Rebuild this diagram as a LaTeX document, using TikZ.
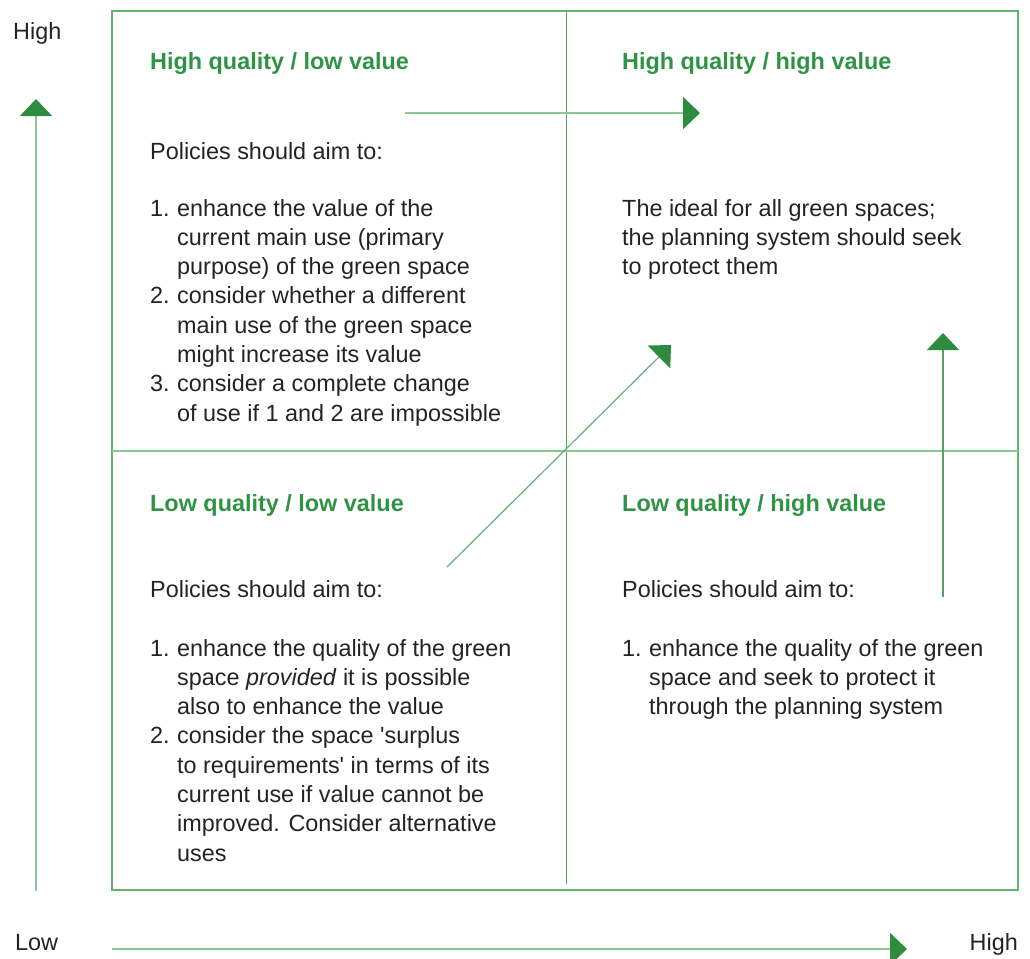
\documentclass[tikz,border=0pt]{standalone}
\usepackage{fontspec}
\setmainfont{Liberation Sans}
\usetikzlibrary{arrows.meta}
\definecolor{tgreen}{RGB}{46,148,68}
\definecolor{hgreen}{RGB}{47,140,62}
\definecolor{lgreen}{RGB}{140,200,150}
\definecolor{mgreen}{RGB}{100,178,112}
\definecolor{dgreen}{RGB}{85,160,98}
\definecolor{ink}{RGB}{35,35,35}
\newcommand{\itm}[1]{\makebox[27pt][l]{#1}}
\newcommand{\cnt}{\hspace*{27pt}}
\begin{document}
\begin{tikzpicture}[x=1pt,y=-1pt,
  body/.style={font=\fontsize{23.4}{29.3}\selectfont, text=ink, inner sep=0pt, anchor=base west},
  title/.style={body, font=\fontsize{23.4}{29.3}\selectfont\bfseries, text=tgreen},
  frameline/.style={draw=mgreen, line width=1.2pt},
  divv/.style={draw=dgreen, line width=1pt},
  divh/.style={draw=lgreen, line width=2pt},
  tip/.style={-{Triangle[length=17pt,width=32pt,color=hgreen]}},
  lightarrow/.style={tip, draw=lgreen, line width=2pt},
  thinarrow/.style={tip, draw=mgreen, line width=1.2pt},
  darkarrow/.style={tip, draw=dgreen, line width=1.2pt}]
\useasboundingbox (0,0) rectangle (1030,958);

% frame and dividers
\coordinate (fnw) at (112,11);
\coordinate (fse) at (1018,890);
\draw[frameline] (fnw) rectangle (fse);
\coordinate (vt) at (566,11);
\coordinate (vb) at (566,884);
\coordinate (hl) at (112,451);
\coordinate (hr) at (1018,451);
\draw[divv] (vt) -- (vb);
\draw[divh] (hl) -- (hr);

% axes
\coordinate (ya0) at (36,891);
\coordinate (ya1) at (36,99);
\draw[lightarrow, line width=1.6pt] (ya0) -- (ya1);
\coordinate (xa0) at (112,949);
\coordinate (xa1) at (907,949);
\draw[lightarrow] (xa0) -- (xa1);

% inner arrows
\coordinate (ta0) at (405,113);
\coordinate (ta1) at (700,113);
\draw[lightarrow] (ta0) -- (ta1);
\coordinate (da0) at (447,567);
\coordinate (da1) at (671,345);
\draw[thinarrow] (da0) -- (da1);
\coordinate (ra0) at (943,597);
\coordinate (ra1) at (943,333);
\draw[darkarrow] (ra0) -- (ra1);

% axis labels
\node[body] (yhigh) at (13,40) {High};
\node[body] (xlow) at (15,950) {Low};
\node[body, anchor=base east] (xhigh) at (1018,950) {High};

% titles
\node[title] (t1) at (150,70) {High quality / low value};
\node[title] (t2) at (622,70) {High quality / high value};
\node[title] (t3) at (150,511) {Low quality / low value};
\node[title] (t4) at (622,511) {Low quality / high value};

% top left
\node[body] (p1) at (150,159) {Policies should aim to:};
\node[body] (l1) at (150,216) {\begin{tabular}[t]{@{}l@{}}
\itm{1.}enhance the value of the\\
\cnt current main use (primary\\
\cnt purpose) of the green space\\
\itm{2.}consider whether a different\\
\cnt main use of the green space\\
\cnt might increase its value\\
\itm{3.}consider a complete change\\
\cnt of use if 1 and 2 are impossible
\end{tabular}};

% top right
\node[body] (l2) at (622,216) {\begin{tabular}[t]{@{}l@{}}
The ideal for all green spaces;\\
the planning system should seek\\
to protect them
\end{tabular}};

% bottom left
\node[body] (p3) at (150,597) {Policies should aim to:};
\node[body] (l3) at (150,656) {\begin{tabular}[t]{@{}l@{}}
\itm{1.}enhance the quality of the green\\
\cnt space \textit{provided} it is possible\\
\cnt also to enhance the value\\
\itm{2.}consider the space \textquotesingle surplus\\
\cnt to requirements\textquotesingle\ in terms of its\\
\cnt current use if value cannot be\\
\cnt improved. Consider alternative\\
\cnt uses
\end{tabular}};

% bottom right
\node[body] (p4) at (622,597) {Policies should aim to:};
\node[body] (l4) at (622,656) {\begin{tabular}[t]{@{}l@{}}
\itm{1.}enhance the quality of the green\\
\cnt space and seek to protect it\\
\cnt through the planning system
\end{tabular}};
\end{tikzpicture}
\end{document}
